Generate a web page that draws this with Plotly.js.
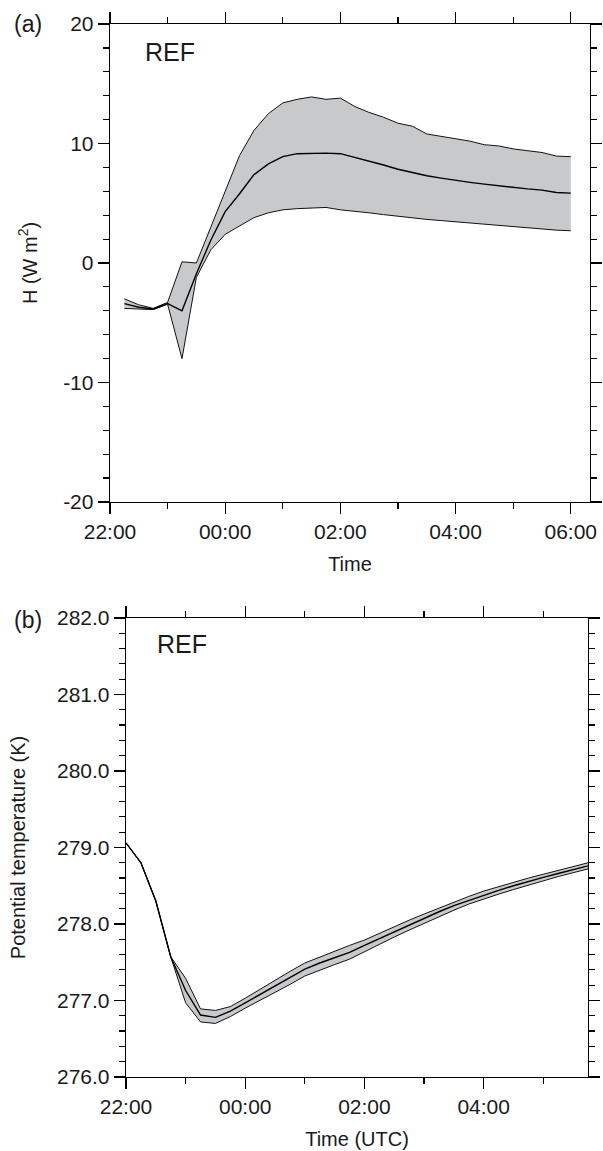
<!DOCTYPE html>
<html>
<head>
<meta charset="utf-8">
<script src="https://cdn.plot.ly/plotly-3.0.1.min.js"></script>
<style>html,body{margin:0;padding:0;background:#fff;}#chart{width:603px;height:1151px;}</style>
</head>
<body>
<div id="chart"></div>
<script>
// ---- Panel (a): sensible heat flux H (W m^2) ----
var timeA = ["2000-01-01 22:15","2000-01-01 22:30","2000-01-01 22:45","2000-01-01 23:00","2000-01-01 23:15","2000-01-01 23:30","2000-01-01 23:45",
  "2000-01-02 00:00","2000-01-02 00:15","2000-01-02 00:30","2000-01-02 00:45","2000-01-02 01:00","2000-01-02 01:15","2000-01-02 01:30","2000-01-02 01:45",
  "2000-01-02 02:00","2000-01-02 02:15","2000-01-02 02:30","2000-01-02 02:45","2000-01-02 03:00","2000-01-02 03:15","2000-01-02 03:30","2000-01-02 03:45",
  "2000-01-02 04:00","2000-01-02 04:15","2000-01-02 04:30","2000-01-02 04:45","2000-01-02 05:00","2000-01-02 05:15","2000-01-02 05:30","2000-01-02 05:45","2000-01-02 06:00"];
var upperA = [-3.0,-3.5,-3.8,-3.3,0.1,0.0,3.0,6.0,9.0,11.1,12.5,13.4,13.7,13.9,13.7,13.8,13.1,12.6,12.2,11.7,11.45,10.8,10.6,10.4,10.2,9.9,9.8,9.55,9.4,9.25,8.95,8.9];
var meanA  = [-3.4,-3.7,-3.85,-3.4,-4.0,-0.9,1.9,4.3,5.8,7.4,8.3,8.9,9.15,9.2,9.2,9.15,8.85,8.55,8.2,7.85,7.55,7.3,7.1,6.9,6.75,6.6,6.45,6.3,6.2,6.1,5.9,5.85];
var lowerA = [-3.8,-3.85,-3.9,-3.45,-8.0,-1.2,1.1,2.4,3.1,3.8,4.2,4.45,4.55,4.6,4.65,4.45,4.35,4.2,4.05,3.9,3.75,3.65,3.55,3.45,3.3,3.2,3.1,3.0,2.9,2.85,2.75,2.7];
var yTickValsA = [-20,-10,0,10,20];
var yTickTextA = ["-20","-10","0","10","20"];

// ---- Panel (b): potential temperature (K) ----
var timeB = ["2000-01-01 22:00","2000-01-01 22:15","2000-01-01 22:30","2000-01-01 22:45","2000-01-01 23:00","2000-01-01 23:15","2000-01-01 23:30","2000-01-01 23:45",
  "2000-01-02 00:00","2000-01-02 00:15","2000-01-02 00:30","2000-01-02 00:45","2000-01-02 01:00","2000-01-02 01:15","2000-01-02 01:30","2000-01-02 01:45",
  "2000-01-02 02:00","2000-01-02 02:15","2000-01-02 02:30","2000-01-02 02:45","2000-01-02 03:00","2000-01-02 03:15","2000-01-02 03:30","2000-01-02 03:45",
  "2000-01-02 04:00","2000-01-02 04:15","2000-01-02 04:30","2000-01-02 04:45","2000-01-02 05:00","2000-01-02 05:15","2000-01-02 05:30","2000-01-02 05:45"];
var meanB  = [279.06,278.80,278.30,277.57,277.13,276.81,276.78,276.86,276.97,277.08,277.19,277.30,277.41,277.49,277.56,277.63,
  277.72,277.81,277.90,277.99,278.07,278.16,278.24,278.31,278.38,278.44,278.50,278.56,278.61,278.66,278.71,278.76];
var upperB = [279.06,278.80,278.30,277.57,277.29,276.89,276.87,276.92,277.03,277.15,277.26,277.38,277.49,277.57,277.64,277.72,
  277.79,277.88,277.97,278.05,278.13,278.21,278.29,278.36,278.43,278.49,278.55,278.60,278.65,278.70,278.75,278.80];
var lowerB = [279.06,278.80,278.30,277.57,276.97,276.72,276.70,276.79,276.90,277.00,277.10,277.21,277.32,277.40,277.47,277.54,
  277.64,277.73,277.83,277.92,278.01,278.10,278.18,278.26,278.33,278.39,278.45,278.51,278.57,278.62,278.67,278.72];
var xTickValsA = ["2000-01-01 22:00","2000-01-02 00:00","2000-01-02 02:00","2000-01-02 04:00","2000-01-02 06:00"];
var xTickTextA = ["22:00","00:00","02:00","04:00","06:00"];
var xTickValsB = ["2000-01-01 22:00","2000-01-02 00:00","2000-01-02 02:00","2000-01-02 04:00"];
var xTickTextB = ["22:00","00:00","02:00","04:00"];
var yTickValsB = [276,277,278,279,280,281,282];
var yTickTextB = ["276.0","277.0","278.0","279.0","280.0","281.0","282.0"];

var FILL = "#c8c9cb";
var FONT = "Liberation Sans, Arial, sans-serif";

var traces = [
  {x: timeA, y: lowerA, xaxis:"x", yaxis:"y", mode:"lines", line:{color:"#111", width:1}, hoverinfo:"skip"},
  {x: timeA, y: upperA, xaxis:"x", yaxis:"y", mode:"lines", fill:"tonexty", fillcolor:FILL, line:{color:"#111", width:1}, hoverinfo:"skip"},
  {x: timeA, y: meanA, xaxis:"x", yaxis:"y", mode:"lines", line:{color:"#000", width:1.4}},
  {x: timeB, y: lowerB, xaxis:"x2", yaxis:"y2", mode:"lines", line:{color:"#111", width:1}, hoverinfo:"skip"},
  {x: timeB, y: upperB, xaxis:"x2", yaxis:"y2", mode:"lines", fill:"tonexty", fillcolor:FILL, line:{color:"#111", width:1}, hoverinfo:"skip"},
  {x: timeB, y: meanB, xaxis:"x2", yaxis:"y2", mode:"lines", line:{color:"#000", width:1.4}}
];

function xaxis(domain, anchor, range, vals, text, title){
  return {
    domain: domain, anchor: anchor, type:"date", range: range,
    tickmode:"array", tickvals: vals, ticktext: text,
    ticks:"outside", ticklen:11, tickwidth:1.3, tickcolor:"#000",
    minor:{tickmode:"linear", tick0:"2000-01-01 22:00", dtick:3600000, ticks:"outside", ticklen:6, tickwidth:1.2, tickcolor:"#000", showgrid:false},
    showline:true, linecolor:"#000", linewidth:1.3, mirror:"allticks",
    showgrid:false, zeroline:false,
    tickfont:{family:FONT, size:21, color:"#1a1a1a"},
    title:{text:title, font:{family:FONT, size:20, color:"#1a1a1a"}, standoff:14},
    automargin:false
  };
}
function yaxis(domain, anchor, range, vals, text, minorStep, tick0, title, standoff){
  return {
    domain: domain, anchor: anchor, range: range,
    tickmode:"array", tickvals: vals, ticktext: text,
    ticks:"outside", ticklen:11, tickwidth:1.3, tickcolor:"#000",
    minor:{tickmode:"linear", tick0:tick0, dtick:minorStep, ticks:"outside", ticklen:6, tickwidth:1.2, tickcolor:"#000", showgrid:false},
    showline:true, linecolor:"#000", linewidth:1.3, mirror:"allticks",
    showgrid:false, zeroline:false,
    tickfont:{family:FONT, size:21, color:"#1a1a1a"},
    title:{text:title, font:{family:FONT, size:20, color:"#1a1a1a"}, standoff:standoff},
    automargin:false
  };
}

var layout = {
  width:603, height:1151,
  margin:{l:0, r:0, t:0, b:0},
  paper_bgcolor:"#fff", plot_bgcolor:"#fff",
  showlegend:false,
  xaxis: xaxis([0.1824,0.9784], "y", ["2000-01-01 22:00","2000-01-02 06:20"], xTickValsA, xTickTextA, "Time"),
  yaxis: yaxis([0.5639,0.9791], "x", [-20,20], yTickValsA, yTickTextA, 2, -20, "H (W m<sup>2</sup>)", 20),
  xaxis2: xaxis([0.2090,0.9751], "y2", ["2000-01-01 22:00","2000-01-02 05:45"], xTickValsB, xTickTextB, "Time (UTC)"),
  yaxis2: yaxis([0.0643,0.4631], "x2", [276,282], yTickValsB, yTickTextB, 0.2, 276, "Potential temperature (K)", 26),
  annotations:[
    {text:"(a)", xref:"paper", yref:"paper", x:28/603, y:1-24/1151, xanchor:"center", yanchor:"middle", showarrow:false, font:{family:FONT, size:23, color:"#1a1a1a"}},
    {text:"(b)", xref:"paper", yref:"paper", x:28/603, y:1-620/1151, xanchor:"center", yanchor:"middle", showarrow:false, font:{family:FONT, size:23, color:"#1a1a1a"}},
    {text:"REF", xref:"x domain", yref:"y domain", x:0.069, y:0.941, xanchor:"left", yanchor:"middle", showarrow:false, font:{family:FONT, size:25, color:"#1a1a1a"}},
    {text:"REF", xref:"x2 domain", yref:"y2 domain", x:0.063, y:0.943, xanchor:"left", yanchor:"middle", showarrow:false, font:{family:FONT, size:25, color:"#1a1a1a"}}
  ]
};

Plotly.newPlot("chart", traces, layout, {displayModeBar:false, staticPlot:true});
</script>
</body>
</html>
